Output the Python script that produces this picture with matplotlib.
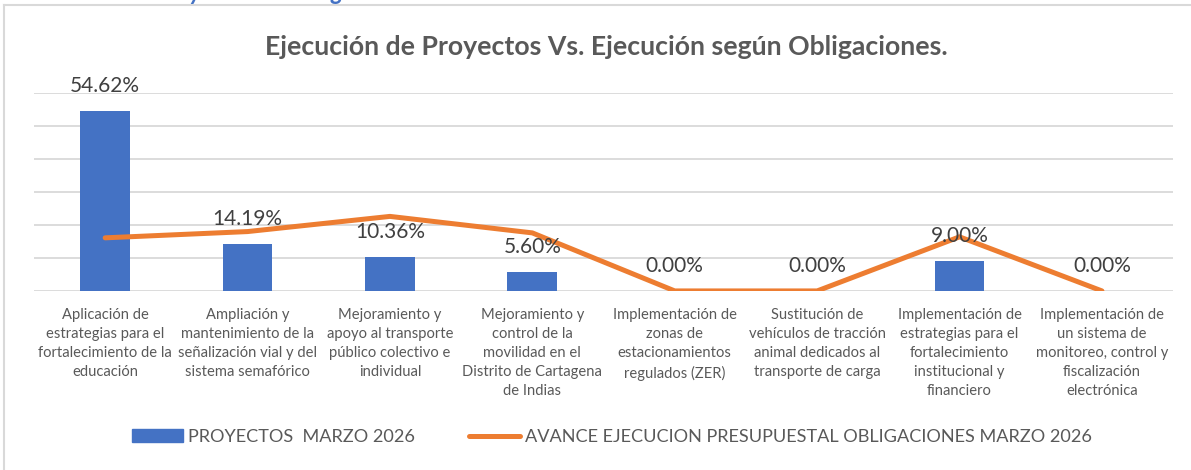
import matplotlib.pyplot as plt
from matplotlib.lines import Line2D
from matplotlib.patches import Patch
import numpy as np

plt.rcParams['font.family'] = ['Lato', 'DejaVu Sans']

# datos
categorias = [
    'Aplicación de\nestrategias para el\nfortalecimiento de la\neducación',
    'Ampliación y\nmantenimiento de la\nseñalización vial y del\nsistema semafórico',
    'Mejoramiento y\napoyo al transporte\npúblico colectivo e\nindividual',
    'Mejoramiento y\ncontrol de la\nmovilidad en el\nDistrito de Cartagena\nde Indias',
    'Implementación de\nzonas de\nestacionamientos\nregulados (ZER)',
    'Sustitución de\nvehículos de tracción\nanimal dedicados al\ntransporte de carga',
    'Implementación de\nestrategias para el\nfortalecimiento\ninstitucional y\nfinanciero',
    'Implementación de\nun sistema de\nmonitoreo, control y\nfiscalización\nelectrónica',
]
proyectos = [54.62, 14.19, 10.36, 5.60, 0.00, 0.00, 9.00, 0.00]
obligaciones = [16.1, 18.0, 22.6, 17.6, 0.0, 0.0, 16.4, 0.0]

azul = '#4472C4'
naranja = '#ED7D31'
gris = '#595959'

fig = plt.figure(figsize=(11.91, 4.70), dpi=100)
ax = fig.add_axes([0.0285, 0.381, 0.9565, 0.421])

x = np.arange(len(categorias))
ax.bar(x, proyectos, width=0.35, color=azul, zorder=2)
ax.plot(x, obligaciones, color=naranja, lw=3.6, solid_joinstyle='round',
        solid_capstyle='round', zorder=3)

for xi, v in zip(x, proyectos):
    ax.annotate(f'{v:.2f}%', (xi, v), xytext=(0, 18), textcoords='offset points',
                ha='center', va='center', fontsize=15, color='#404040', zorder=4)

ax.set_xlim(-0.5, len(categorias) - 0.5)
ax.set_ylim(0, 60)
ax.set_yticks(np.arange(0, 61, 10))
ax.yaxis.grid(True, color='#D9D9D9', lw=1.3, zorder=0)
ax.set_axisbelow(True)
ax.tick_params(axis='y', left=False, labelleft=False)
ax.tick_params(axis='x', length=0, pad=12)
ax.set_xticks(x)
ax.set_xticklabels(categorias, fontsize=10.6, color=gris, linespacing=1.47)
for s in ax.spines.values():
    s.set_visible(False)

fig.text(0.509, 0.9, 'Ejecución de Proyectos Vs. Ejecución según Obligaciones.',
         ha='center', va='center', fontsize=19.2, fontweight='bold', color=gris)

# titulo de la ilustracion, recortado arriba
fig.text(20 / 1191, 1 - 0.3 / 470, 'Ilustración 7. Proyectos Vs Obligaciones', ha='left',
         va='baseline', fontsize=17, fontweight='bold', fontstyle='italic', color=azul)

handles = [Patch(color=azul), Line2D([], [], color=naranja, lw=3.6, solid_capstyle='round')]
labels = ['PROYECTOS  MARZO 2026', 'AVANCE EJECUCION PRESUPUESTAL OBLIGACIONES MARZO 2026']
fig.legend(handles, labels, loc='center', bbox_to_anchor=(0.514, 0.07), ncol=2,
           frameon=False, fontsize=13.1, labelcolor=gris, handlelength=2.8,
           handletextpad=0.27, columnspacing=3.0)

# borde del area del grafico
fig.add_artist(Line2D([4 / 1191, 1], [1 - 5 / 470, 1 - 5 / 470], color='#D9D9D9', lw=1.5))
fig.add_artist(Line2D([4 / 1191, 4 / 1191], [0, 1 - 5 / 470], color='#D9D9D9', lw=1.5))

fig.savefig('out.png', dpi=100)
